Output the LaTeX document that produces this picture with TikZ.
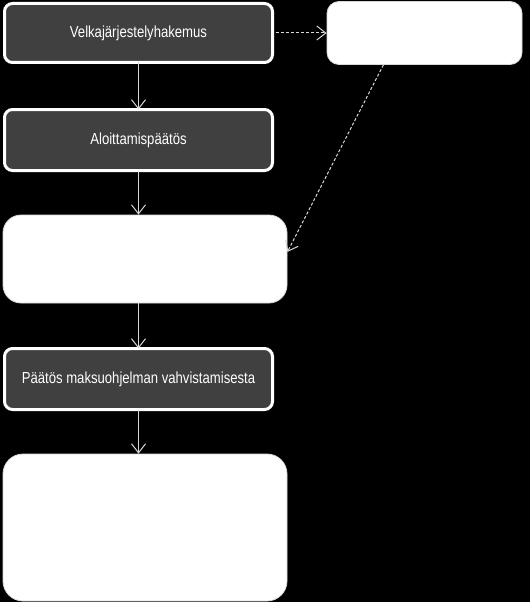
\documentclass[tikz,border=0pt]{standalone}
\usepackage{fontspec}
\setmainfont{Liberation Sans}[FakeStretch=0.82]
\usetikzlibrary{arrows.meta,calc}
\definecolor{boxgray}{HTML}{404040}
\definecolor{linegray}{HTML}{D8D8D8}
\tikzset{
  darkbox/.style={draw=white, line width=3pt, fill=boxgray, rounded corners=8pt, text=white,
    font=\fontsize{16}{19}\selectfont, minimum width=268pt, inner sep=0pt},
  whitebox/.style={draw=linegray, line width=0.8pt, fill=white, inner sep=0pt},
  conn/.style={draw=linegray, line width=1pt, -{Straight Barb[length=9pt,width=14pt,line width=1pt]}},
  dconn/.style={conn, dash pattern=on 3pt off 2pt}
}
\begin{document}
\begin{tikzpicture}[x=1pt,y=-1pt]
\fill[black] (0,0) rectangle (530,602);
\useasboundingbox (0,0) rectangle (530,602);
% dark boxes
\node[darkbox, minimum height=59pt] (b1) at (138.5,33) {Velkajärjestelyhakemus};
\node[darkbox, minimum height=61pt] (b2) at (138.5,140) {Aloittamispäätös};
\node[darkbox, minimum height=61pt] (b4) at (138.5,379) {Päätös maksuohjelman vahvistamisesta};
% white boxes
\node[whitebox, rounded corners=12pt, minimum width=195pt, minimum height=63pt] (r1) at (424.5,33) {};
\node[whitebox, rounded corners=18pt, minimum width=284pt, minimum height=88pt] (b3) at (145,259) {};
\node[whitebox, rounded corners=20pt, minimum width=284pt, minimum height=147pt] (b5) at (145,527.5) {};
% connectors
\draw[conn] ($(b1.south)+(0,-1.5)$) -- ($(b2.north)+(0,1.5)$);
\draw[conn] ($(b2.south)+(0,-1.5)$) -- (b2.south |- b3.north);
\draw[conn] (b3.south -| b4.north) -- ($(b4.north)+(0,1.5)$);
\draw[conn] ($(b4.south)+(0,-1.5)$) -- (b4.south |- b5.north);
\draw[dconn] ($(b1.east)+(1.5,0)$) -- (r1.west);
\draw[dconn] ($(r1.south west)!0.29!(r1.south east)$) -- ($(b3.north east)!0.42!(b3.south east)$);
\end{tikzpicture}
\end{document}
